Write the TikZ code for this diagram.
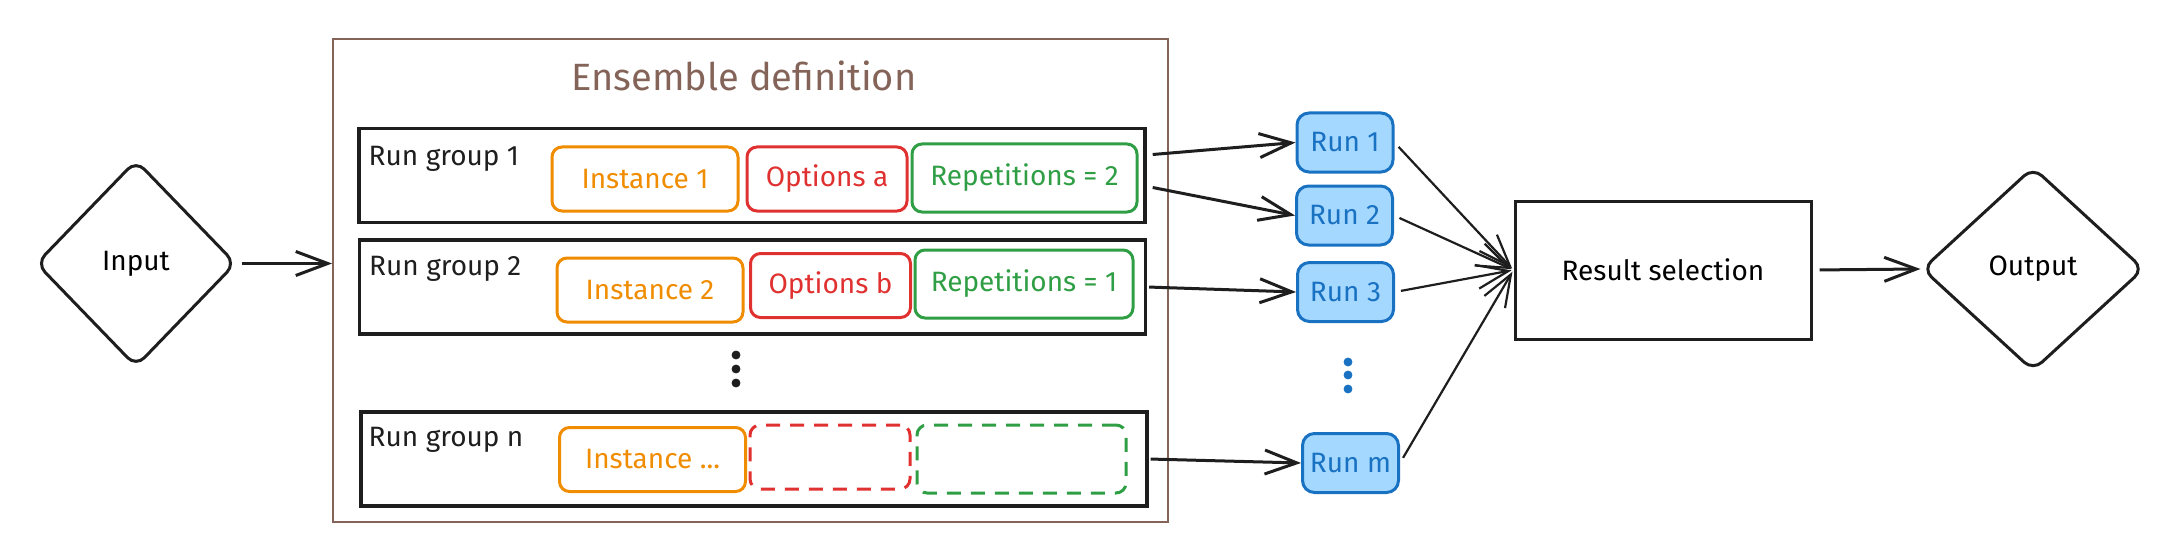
\documentclass[tikz,border=0pt]{standalone}
\usepackage{fontspec}
\setmainfont{Fira Sans}
\usetikzlibrary{arrows.meta,shapes.geometric}

\definecolor{ink}{HTML}{1E1E1E}
\definecolor{ensbrown}{HTML}{846358}
\definecolor{instorange}{HTML}{F08C00}
\definecolor{optred}{HTML}{E03131}
\definecolor{repgreen}{HTML}{2F9E44}
\definecolor{runblue}{HTML}{1971C2}
\definecolor{runfill}{HTML}{A5D8FF}

\tikzset{
  decision/.style={diamond, draw=ink, line width=1.5pt, rounded corners=6pt, inner sep=0pt},
  ensframe/.style={draw=ensbrown, line width=1pt, minimum width=417.5pt, minimum height=241.5pt},
  groupbox/.style={draw=ink, line width=1.7pt, minimum width=393pt, minimum height=47pt},
  grouplabel/.style={anchor=north west, inner sep=0pt, text=ink},
  partbox/.style={draw, line width=1.5pt, rounded corners=5pt, minimum height=32pt, inner sep=0pt},
  instbox/.style={partbox, draw=instorange, text=instorange, minimum width=93pt},
  optbox/.style={partbox, draw=optred, text=optred, minimum width=80pt},
  repbox/.style={partbox, draw=repgreen, text=repgreen, minimum height=34pt},
  ghostbox/.style={dash pattern=on 7pt off 5pt},
  runbox/.style={draw=runblue, fill=runfill, text=runblue, line width=1.5pt, rounded corners=6pt,
    minimum width=48pt, minimum height=29.5pt, inner sep=0pt},
  selectbox/.style={draw=ink, line width=1.5pt, minimum width=148pt, minimum height=69pt},
  flow/.style={->, draw=ink, line width=1.5pt},
}

\begin{document}
\begin{tikzpicture}[x=0.5pt, y=-0.5pt, >={Straight Barb[length=16pt,width=12pt]},
    font=\fontsize{14}{16}\selectfont]
    \useasboundingbox (0,0) rectangle (2168,556);

    % Input
    \node[decision, minimum width=100pt, minimum height=103.5pt] (input) at (136,263.5) {Input};

    % Ensemble definition
    \node[ensframe] (ensemble) at (750.5,280.5) {};
    \node[text=ensbrown, font=\fontsize{19}{22}\selectfont] (title) at (744,76) {Ensemble definition};

    % Run group 1
    \node[groupbox] (rg1) at (752,175.5) {};
    \node[grouplabel] (rg1label) at ([shift={(11,19)}]rg1.north west) {Run group 1};
    \node[instbox] (inst1) at (645,179) {Instance 1};
    \node[optbox] (opta) at (827,179) {Options a};
    \node[repbox, minimum width=112.5pt] (rep2) at (1024.5,178) {Repetitions = 2};

    % Run group 2
    \node[groupbox] (rg2) at (752.5,287) {};
    \node[grouplabel] (rg2label) at ([shift={(11,18)}]rg2.north west) {Run group 2};
    \node[instbox] (inst2) at (650,290) {Instance 2};
    \node[optbox] (optb) at (830.5,285.5) {Options b};
    \node[repbox, minimum width=109pt] (rep1) at (1024,284) {Repetitions = 1};

    % Dots
    \filldraw[ink] (736,355) circle (2pt) (736,369) circle (2pt) (736,383) circle (2pt);

    % Run group n
    \node[groupbox] (rgn) at (754,459) {};
    \node[grouplabel] (rgnlabel) at ([shift={(9,17)}]rgn.north west) {Run group n};
    \node[instbox] (instn) at (652.5,459.5) {Instance ...};
    \node[optbox, ghostbox] (optn) at (830,457) {};
    \node[repbox, ghostbox, minimum width=104.5pt] (repn) at (1021.5,459) {};

    % Runs
    \node[runbox] (run1) at (1345,142.5) {Run 1};
    \node[runbox] (run2) at (1344.5,215.5) {Run 2};
    \node[runbox] (run3) at (1345.5,292) {Run 3};
    \node[runbox] (runm) at (1350.5,463) {Run m};
    \filldraw[runblue] (1348,362) circle (2pt) (1348,375) circle (2pt) (1348,389) circle (2pt);

    % Result selection and output
    \node[selectbox] (result) at (1663,270) {Result selection};
    \node[decision, minimum width=111pt, minimum height=102pt] (output) at (2033,269) {Output};

    % Arrows
    \draw[flow, shorten <=2pt] (input.east) -- (input.east -| ensemble.west);
    \draw[flow] ([shift={(6,-21)}]rg1.east) -- (run1.west);
    \draw[flow] ([shift={(6,12)}]rg1.east) -- (run2.west);
    \draw[flow, shorten <=1pt] (rg2.east) -- (run3.west);
    \draw[flow, shorten <=1pt] (rgn.east) -- (runm.west);
    \foreach \r in {run1,run2,run3,runm}
        \draw[flow, line width=1.1pt, shorten <=3pt, shorten >=1pt] (\r.east) -- (result.west);
    \draw[flow, shorten <=3.5pt] (result.east) -- (output.west);
\end{tikzpicture}
\end{document}
